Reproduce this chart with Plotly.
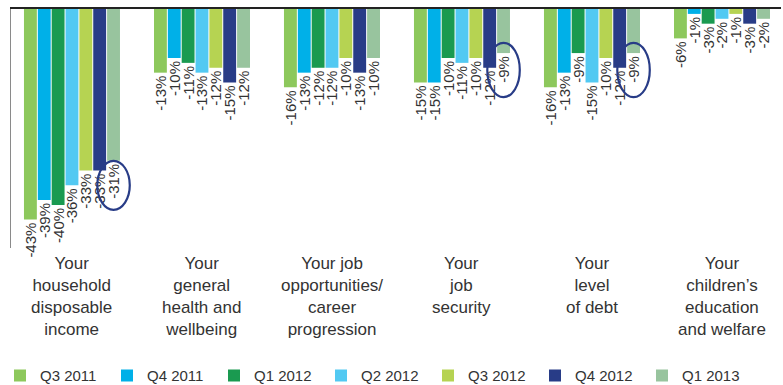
import plotly.graph_objects as go

categories = [
    "Your<br>household<br>disposable<br>income",
    "Your<br>general<br>health and<br>wellbeing",
    "Your job<br>opportunities/<br>career<br>progression",
    "Your<br>job<br>security",
    "Your<br>level<br>of debt",
    "Your<br>children\u2019s<br>education<br>and welfare",
]
series_names = ["Q3 2011", "Q4 2011", "Q1 2012", "Q2 2012", "Q3 2012", "Q4 2012", "Q1 2013"]
q3_2011 = [-43, -13, -16, -15, -16, -6]
q4_2011 = [-39, -10, -13, -15, -13, -1]
q1_2012 = [-40, -11, -12, -10, -9, -3]
q2_2012 = [-36, -13, -12, -11, -15, -2]
q3_2012 = [-33, -12, -10, -10, -10, -1]
q4_2012 = [-33, -15, -13, -12, -12, -3]
q1_2013 = [-31, -12, -10, -9, -9, -2]
series_values = [q3_2011, q4_2011, q1_2012, q2_2012, q3_2012, q4_2012, q1_2013]
colors = ["#8DC85C", "#00B0E8", "#1A9A50", "#52C9F2", "#B6D352", "#283C87", "#98C49E"]

# highlighted (circled) labels: group index, circle top/bottom in value units
highlight_groups = [0, 3, 4]
highlight_top = [-31.0, -6.9, -6.9]
highlight_bottom = [-41.0, -18.0, -18.0]

BARGAP = 0.254
x_idx = list(range(len(categories)))

fig = go.Figure()
for name, vals, col in zip(series_names, series_values, colors):
    fig.add_trace(go.Bar(
        x=x_idx, y=vals, name=name,
        marker=dict(color=col, line=dict(width=0)),
        text=[f"{v}%" for v in vals],
        textposition="outside", textangle=-90,
        constraintext="none", cliponaxis=False,
        textfont=dict(family="Liberation Sans", size=15, color="#333333"),
    ))

n = len(series_names)
slot = (1 - BARGAP) / n
last_offset = -(1 - BARGAP) / 2 + slot * (n - 0.5)
for g, top, bot in zip(highlight_groups, highlight_top, highlight_bottom):
    cx = g + last_offset
    fig.add_shape(type="circle", xref="x", yref="y",
                  x0=cx - 0.125, x1=cx + 0.125, y0=bot, y1=top,
                  line=dict(color="#283C87", width=2.2))

for i, c in enumerate(categories):
    fig.add_annotation(x=i, y=0, xref="x", yref="paper", yanchor="top",
                       yshift=-4, text=c, showarrow=False,
                       font=dict(family="Liberation Sans", size=17, color="#333333"))

fig.update_layout(
    width=783, height=385,
    margin=dict(l=11, r=2, t=9, b=137),
    barmode="group", bargap=BARGAP, bargroupgap=0.07,
    plot_bgcolor="white", paper_bgcolor="white",
    showlegend=True,
    legend=dict(orientation="h", x=-0.006, xref="container", y=0.024, yref="container",
                yanchor="middle", xanchor="left",
                entrywidth=62, entrywidthmode="pixels",
                font=dict(family="Liberation Sans", size=15, color="#333333"),
                itemclick=False),
    xaxis=dict(range=[-0.469, 5.454], side="top", showticklabels=False, ticks="",
               showgrid=False, zeroline=False, showline=True, linecolor="#222222", linewidth=1.5),
    yaxis=dict(range=[-48.8, 0], showticklabels=False, ticks="", showgrid=False,
               zeroline=False, showline=True, linecolor="#8a8a8a", linewidth=1),
)

fig.write_html("out.html")
